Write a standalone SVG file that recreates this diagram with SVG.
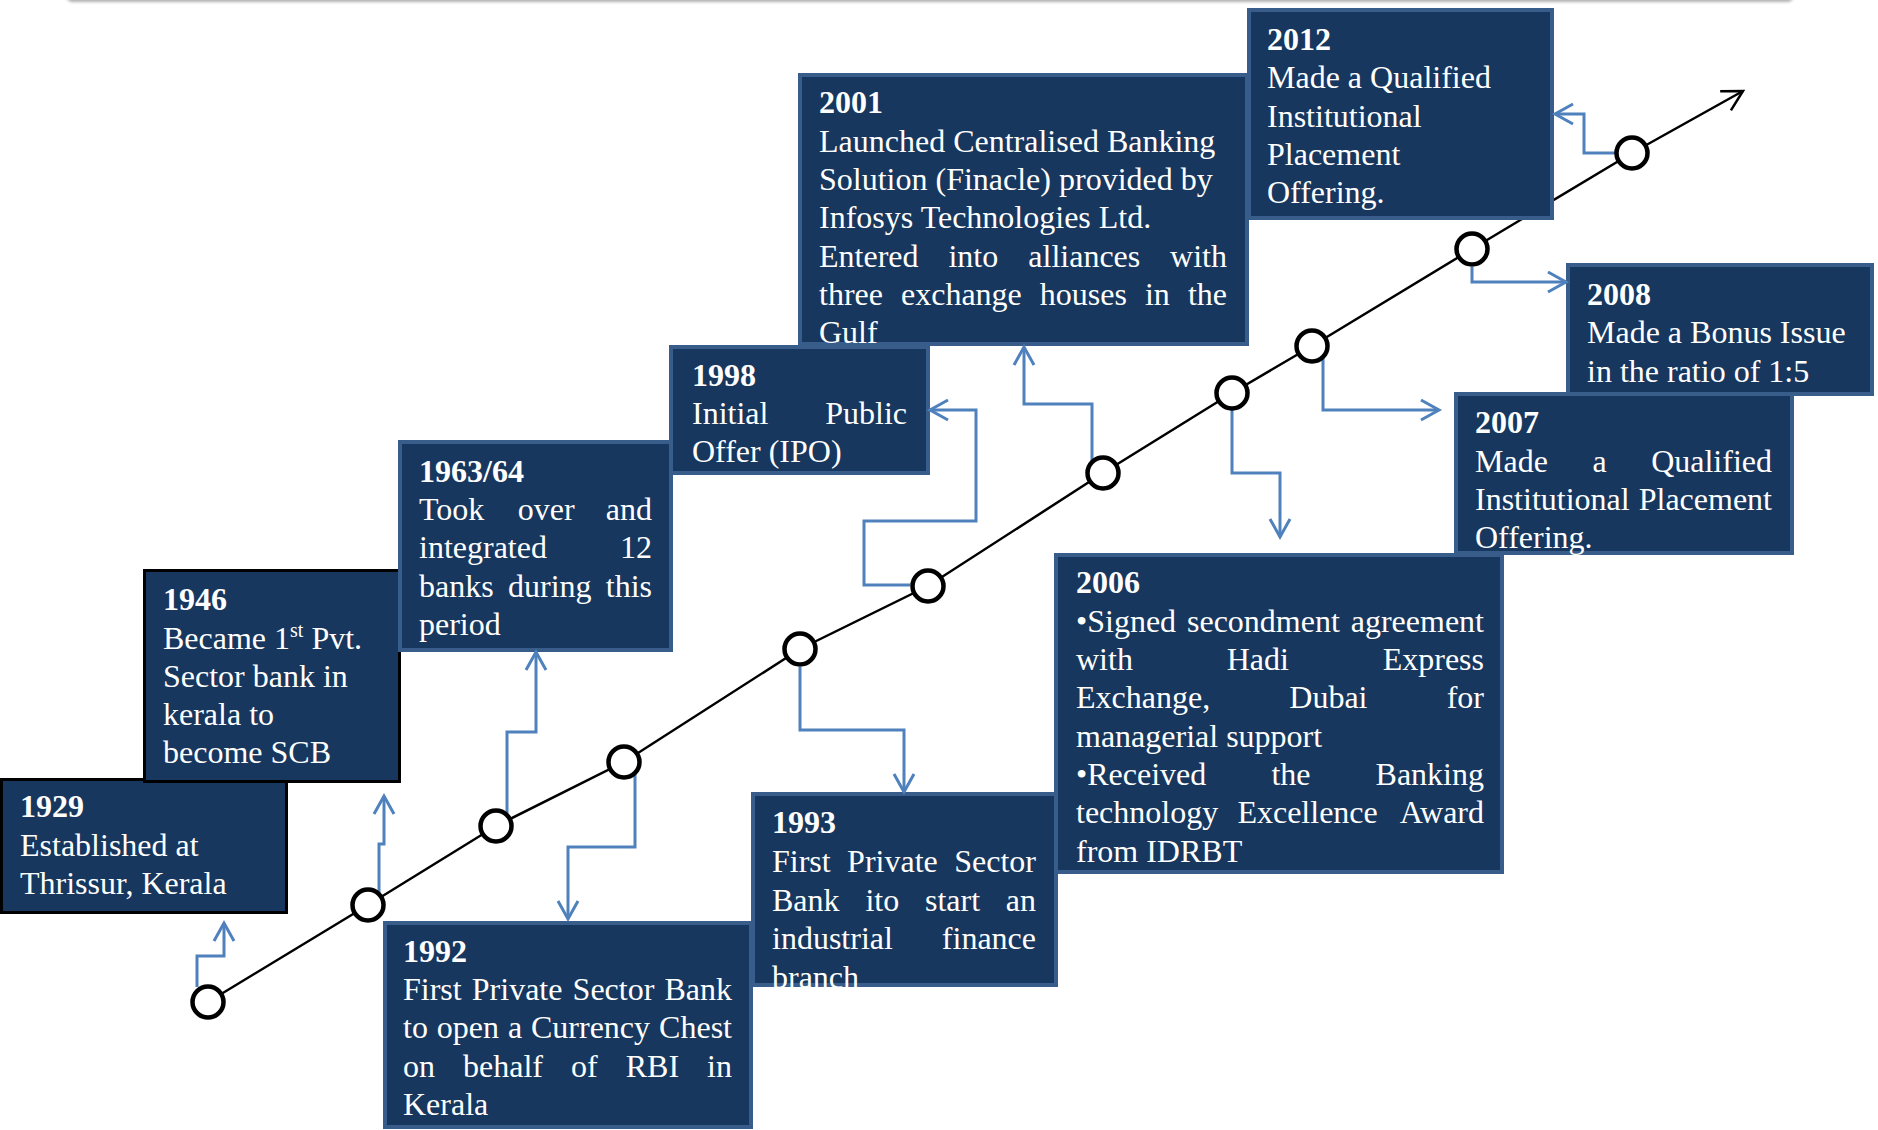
<svg xmlns="http://www.w3.org/2000/svg" width="1878" height="1130" viewBox="0 0 1878 1130">
<defs>
<style>
.box{fill:#17375E;stroke:#385D8A;stroke-width:4}
.bk{stroke:#000;stroke-width:3}
.t{font-family:"Liberation Serif","Times New Roman",serif;font-size:32px;fill:#fff}
.y{font-weight:bold}
.e{text-anchor:end}
.c{fill:none;stroke:#4F81BD;stroke-width:3;marker-end:url(#ab)}
.ax{fill:none;stroke:#000;stroke-width:2.5;marker-end:url(#ak)}
.dot{fill:#fff;stroke:#000;stroke-width:4.5}
</style>
<marker id="ab" markerUnits="userSpaceOnUse" markerWidth="40" markerHeight="40" viewBox="-25 -20 40 40" refX="0" refY="0" orient="auto" overflow="visible"><path d="M-18,-10 L0,0 L-18,10" fill="none" stroke="#4F81BD" stroke-width="3"/></marker>
<marker id="ak" markerUnits="userSpaceOnUse" markerWidth="40" markerHeight="40" viewBox="-25 -20 40 40" refX="0" refY="0" orient="auto" overflow="visible"><path d="M-20,-11 L0,0 L-20,11" fill="none" stroke="#000" stroke-width="2.5"/></marker>
<filter id="sh" x="-5%" y="-200%" width="110%" height="500%"><feGaussianBlur stdDeviation="1.5"/></filter>
</defs>
<rect width="1878" height="1130" fill="#fff"/>
<rect x="67" y="-8" width="1726" height="10" rx="5" fill="#b0b0b0" filter="url(#sh)"/>

<g id="axis">
<polyline class="ax" points="208,1002 368,905 496,826 624,762 800,649 928,586 1103,473 1232,393 1312,346 1472,249 1632,153 1743,91"/>
</g>

<g id="n1929">
<rect class="box bk" x="1.5" y="779.5" width="285" height="133"/>
<text class="t y" x="20" y="817">1929</text>
<text class="t" x="20" y="856">Established at</text>
<text class="t" x="20" y="894">Thrissur, Kerala</text>
</g>

<g id="n1946">
<rect class="box bk" x="144.5" y="570.5" width="255" height="211"/>
<text class="t y" x="163" y="610">1946</text>
<text class="t" x="163" y="649">Became 1<tspan font-size="20" dy="-12">st</tspan><tspan dy="12"> Pvt.</tspan></text>
<text class="t" x="163" y="687">Sector bank in</text>
<text class="t" x="163" y="725">kerala to</text>
<text class="t" x="163" y="763">become SCB</text>
</g>

<g id="n1963">
<rect class="box" x="400" y="442" width="271" height="208"/>
<text class="t y" x="419" y="482">1963/64</text>
<text class="t" y="520"><tspan x="419">Took</tspan><tspan x="517.8">over</tspan></text>
<text class="t e" x="652" y="520">and</text>
<text class="t" x="419" y="558">integrated</text>
<text class="t e" x="652" y="558">12</text>
<text class="t" y="597"><tspan x="419">banks</tspan><tspan x="508">during</tspan></text>
<text class="t e" x="652" y="597">this</text>
<text class="t" x="419" y="635">period</text>
</g>

<g id="n1998">
<rect class="box" x="671" y="347" width="257" height="126"/>
<text class="t y" x="692" y="386">1998</text>
<text class="t" x="692" y="424">Initial</text>
<text class="t e" x="907" y="424">Public</text>
<text class="t" x="692" y="462">Offer (IPO)</text>
</g>

<g id="n2001">
<rect class="box" x="800" y="75" width="447" height="269"/>
<text class="t y" x="819" y="113">2001</text>
<text class="t" x="819" y="152">Launched Centralised Banking</text>
<text class="t" x="819" y="190">Solution (Finacle) provided by</text>
<text class="t" x="819" y="228">Infosys Technologies Ltd.</text>
<text class="t" y="267"><tspan x="819">Entered</tspan><tspan x="948.4">into</tspan><tspan x="1028.3">alliances</tspan></text>
<text class="t e" x="1227" y="267">with</text>
<text class="t" y="305"><tspan x="819">three</tspan><tspan x="901">exchange</tspan><tspan x="1039.8">houses</tspan><tspan x="1144.9">in</tspan></text>
<text class="t e" x="1227" y="305">the</text>
<text class="t" x="819" y="343">Gulf</text>
</g>

<g id="n2012">
<rect class="box" x="1249" y="10" width="303" height="208"/>
<text class="t y" x="1267" y="50">2012</text>
<text class="t" x="1267" y="88">Made a Qualified</text>
<text class="t" x="1267" y="127">Institutional</text>
<text class="t" x="1267" y="165">Placement</text>
<text class="t" x="1267" y="203">Offering.</text>
</g>

<g id="n2008">
<rect class="box" x="1568" y="265" width="304" height="129"/>
<text class="t y" x="1587" y="305">2008</text>
<text class="t" x="1587" y="343">Made a Bonus Issue</text>
<text class="t" x="1587" y="382">in the ratio of 1:5</text>
</g>

<g id="n1992">
<rect class="box" x="385" y="923" width="366" height="204"/>
<text class="t y" x="403" y="962">1992</text>
<text class="t" y="1000"><tspan x="403">First</tspan><tspan x="471.8">Private</tspan><tspan x="572.6">Sector</tspan></text>
<text class="t e" x="732" y="1000">Bank</text>
<text class="t" y="1038"><tspan x="403">to</tspan><tspan x="436.8">open</tspan><tspan x="507.9">a</tspan><tspan x="531">Currency</tspan></text>
<text class="t e" x="732" y="1038">Chest</text>
<text class="t" y="1077"><tspan x="403">on</tspan><tspan x="463">behalf</tspan><tspan x="571">of</tspan><tspan x="625.7">RBI</tspan></text>
<text class="t e" x="732" y="1077">in</text>
<text class="t" x="403" y="1115">Kerala</text>
</g>

<g id="n1993">
<rect class="box" x="753" y="794" width="303" height="191"/>
<text class="t y" x="772" y="833">1993</text>
<text class="t" y="872"><tspan x="772">First</tspan><tspan x="847.1">Private</tspan></text>
<text class="t e" x="1036" y="872">Sector</text>
<text class="t" y="911"><tspan x="772">Bank</tspan><tspan x="865.4">ito</tspan><tspan x="925">start</tspan></text>
<text class="t e" x="1036" y="911">an</text>
<text class="t" x="772" y="949">industrial</text>
<text class="t e" x="1036" y="949">finance</text>
<text class="t" x="772" y="988">branch</text>
</g>

<g id="n2006">
<rect class="box" x="1056" y="555" width="446" height="317"/>
<text class="t y" x="1076" y="593">2006</text>
<text class="t" y="632"><tspan x="1076">•Signed</tspan><tspan x="1187">secondment</tspan></text>
<text class="t e" x="1484" y="632">agreement</text>
<text class="t" y="670"><tspan x="1076">with</tspan><tspan x="1226.7">Hadi</tspan></text>
<text class="t e" x="1484" y="670">Express</text>
<text class="t" y="708"><tspan x="1076">Exchange,</tspan><tspan x="1289.3">Dubai</tspan></text>
<text class="t e" x="1484" y="708">for</text>
<text class="t" x="1076" y="747">managerial support</text>
<text class="t" y="785"><tspan x="1076">•Received</tspan><tspan x="1271.4">the</tspan></text>
<text class="t e" x="1484" y="785">Banking</text>
<text class="t" y="823"><tspan x="1076">technology</tspan><tspan x="1237.4">Excellence</tspan></text>
<text class="t e" x="1484" y="823">Award</text>
<text class="t" x="1076" y="862">from IDRBT</text>
</g>

<g id="n2007">
<rect class="box" x="1456" y="394" width="336" height="159"/>
<text class="t y" x="1475" y="433">2007</text>
<text class="t" y="472"><tspan x="1475">Made</tspan><tspan x="1592.4">a</tspan></text>
<text class="t e" x="1772" y="472">Qualified</text>
<text class="t" x="1475" y="510">Institutional</text>
<text class="t e" x="1772" y="510">Placement</text>
<text class="t" x="1475" y="548">Offering.</text>
</g>

<g id="connectors">
<path class="c" d="M197,987V956H224V923"/>
<path class="c" d="M379,893V844H384V796"/>
<path class="c" d="M507,813V732H536V652"/>
<path class="c" d="M635,773V847H568V919"/>
<path class="c" d="M800,667V730H904V792"/>
<path class="c" d="M910,585H864V521H976V410H930"/>
<path class="c" d="M1092,462V404H1024V347"/>
<path class="c" d="M1232,410V473H1280V537"/>
<path class="c" d="M1323,357V410H1439"/>
<path class="c" d="M1472,267V282H1566"/>
<path class="c" d="M1616,153H1584V114H1555"/>
</g>

<g id="markers">
<circle class="dot" cx="208" cy="1002" r="15.5"/>
<circle class="dot" cx="368" cy="905" r="15.5"/>
<circle class="dot" cx="496" cy="826" r="15.5"/>
<circle class="dot" cx="624" cy="762" r="15.5"/>
<circle class="dot" cx="800" cy="649" r="15.5"/>
<circle class="dot" cx="928" cy="586" r="15.5"/>
<circle class="dot" cx="1103" cy="473" r="15.5"/>
<circle class="dot" cx="1232" cy="393" r="15.5"/>
<circle class="dot" cx="1312" cy="346" r="15.5"/>
<circle class="dot" cx="1472" cy="249" r="15.5"/>
<circle class="dot" cx="1632" cy="153" r="15.5"/>
</g>
</svg>
